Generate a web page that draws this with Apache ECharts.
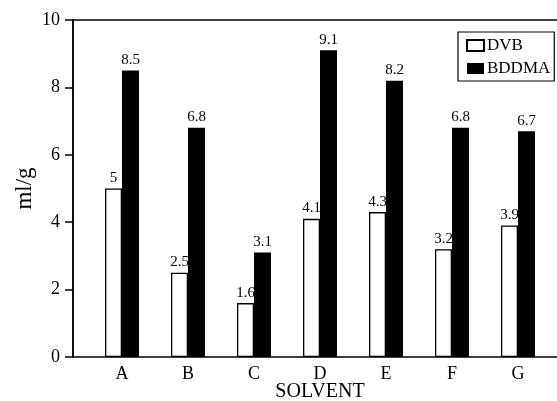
<!DOCTYPE html>
<html>
<head>
<meta charset="utf-8">
<script src="https://cdn.jsdelivr.net/npm/echarts@6/dist/echarts.min.js"></script>
<style>html,body{margin:0;padding:0;background:#fff}#c{width:557px;height:401px}</style>
</head>
<body>
<div id="c"></div>
<script>
const categories = ['A', 'B', 'C', 'D', 'E', 'F', 'G'];
const dvb = [5, 2.5, 1.6, 4.1, 4.3, 3.2, 3.9];
const bddma = [8.5, 6.8, 3.1, 9.1, 8.2, 6.8, 6.7];
const yTicks = [0, 2, 4, 6, 8, 10];

const FONT = "'Liberation Serif', 'Times New Roman', serif";
const chart = echarts.init(document.getElementById('c'), null, {renderer: 'canvas'});
chart.setOption({
  animation: false,
  backgroundColor: '#fff',
  grid: [
    {left: 89, width: 462, top: 20, bottom: 44, containLabel: false, outerBoundsMode: 'none'},
    {left: 73, right: -10, top: 20, bottom: 44, containLabel: false, outerBoundsMode: 'none', show: true, borderColor: '#000', borderWidth: 1.5, backgroundColor: 'transparent'}
  ],
  legend: {
    data: ['DVB', 'BDDMA'],
    orient: 'vertical',
    left: 458, top: 32,
    backgroundColor: '#fff',
    borderColor: '#000', borderWidth: 1.2,
    padding: [5, 4, 4, 8],
    itemGap: 6,
    icon: 'rect',
    itemWidth: 17, itemHeight: 11,
    textStyle: {fontFamily: FONT, fontSize: 17, color: '#000', padding: [0, 0, 0, -2]}
  },
  xAxis: [
    {type: 'category', gridIndex: 0, data: categories,
      axisLine: {show: false}, axisTick: {show: false},
      axisLabel: {fontFamily: FONT, fontSize: 18, color: '#000', margin: 8},
      name: 'SOLVENT', nameLocation: 'middle', nameGap: 25, nameMoveOverlap: false,
      nameTextStyle: {fontFamily: FONT, fontSize: 20, color: '#000'}},
    {type: 'value', gridIndex: 1, show: false}
  ],
  yAxis: [
    {type: 'value', gridIndex: 0, min: yTicks[0], max: yTicks[yTicks.length - 1], interval: 2, offset: 16,
      axisLine: {show: true, lineStyle: {color: '#000', width: 1.5}},
      axisTick: {show: true, length: 8, lineStyle: {color: '#000', width: 1.5}},
      splitLine: {show: false},
      axisLabel: {fontFamily: FONT, fontSize: 18, color: '#000', margin: 13},
      name: 'ml/g', nameLocation: 'middle', nameGap: 37, nameRotate: 90, nameMoveOverlap: false,
      nameTextStyle: {fontFamily: FONT, fontSize: 23, color: '#000'}},
    {type: 'value', gridIndex: 1, show: false}
  ],
  series: [
    {name: 'DVB', type: 'bar', xAxisIndex: 0, yAxisIndex: 0, data: dvb, barWidth: 17, barGap: '0%',
      itemStyle: {color: '#fff', borderColor: '#000', borderWidth: 1.3},
      label: {show: true, position: 'top', distance: 3, fontFamily: FONT, fontSize: 15, color: '#000'}},
    {name: 'BDDMA', type: 'bar', xAxisIndex: 0, yAxisIndex: 0, data: bddma, barWidth: 17, barGap: '0%',
      itemStyle: {color: '#000', borderColor: '#000', borderWidth: 0},
      label: {show: true, position: 'top', distance: 3, fontFamily: FONT, fontSize: 15, color: '#000'}}
  ]
});
</script>
</body>
</html>
